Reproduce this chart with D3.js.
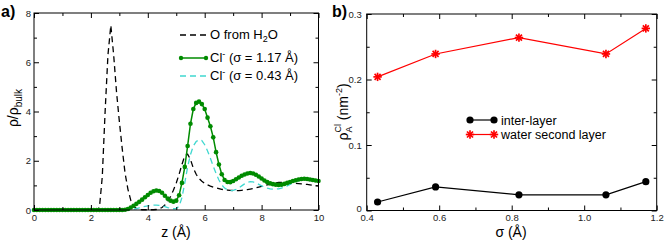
<!DOCTYPE html>
<html>
<head>
<meta charset="utf-8">
<script src="https://cdn.jsdelivr.net/npm/d3@7"></script>
<style>
body { margin: 0; background: #fff; }
svg { display: block; font-family: "Liberation Sans", Arial, sans-serif; }
.tick text { font-size: 9.5px; fill: #222; }
.domain { display: none; }
</style>
</head>
<body>
<svg width="664" height="243"></svg>
<script>
// panel a: density profiles along z (0.1 A steps)
var zGrid = d3.range(0, 101).map(function(i) { return i / 10; });

var oWater = [
  0, 0, 0, 0, 0, 0, 0, 0, 0, 0,
  0, 0, 0, 0, 0, 0, 0, 0, 0, 0,
  0, 0, 0, 0.1, 1.35, 4.0, 6.3, 7.5, 6.3, 4.8,
  3.6, 2.5, 1.5, 0.85, 0.4, 0.15, 0.06, 0.03, 0.01, 0.01,
  0.01, 0.01, 0.01, 0.02, 0.05, 0.1, 0.2, 0.35, 0.55, 0.8,
  1.1, 1.45, 1.85, 2.2, 2.27, 2.05, 1.7, 1.45, 1.28, 1.17,
  1.08, 1.02, 0.97, 0.93, 0.9, 0.87, 0.84, 0.82, 0.81, 0.8,
  0.79, 0.79, 0.79, 0.8, 0.81, 0.83, 0.85, 0.87, 0.9, 0.93,
  0.96, 0.99, 1.02, 1.05, 1.08, 1.1, 1.12, 1.12, 1.12, 1.11,
  1.1, 1.09, 1.08, 1.07, 1.06, 1.05, 1.04, 1.02, 1.0, 0.99,
  0.98
];

var clBig = [
  0, 0, 0, 0, 0, 0, 0, 0, 0, 0,
  0, 0, 0, 0, 0, 0, 0, 0, 0, 0,
  0, 0, 0, 0, 0, 0, 0, 0, 0, 0,
  0, 0, 0.01, 0.04, 0.1, 0.17, 0.25, 0.33, 0.42, 0.52,
  0.61, 0.7, 0.76, 0.79, 0.77, 0.7, 0.58, 0.46, 0.38, 0.34,
  0.38, 0.6, 1.1, 1.75, 2.6, 3.5, 4.1, 4.35, 4.4, 4.3,
  4.1, 3.75, 3.4, 2.95, 2.35, 1.85, 1.45, 1.22, 1.14, 1.13,
  1.18, 1.25, 1.32, 1.39, 1.44, 1.48, 1.5, 1.48, 1.43, 1.36,
  1.28, 1.2, 1.13, 1.08, 1.05, 1.03, 1.02, 1.03, 1.06, 1.1,
  1.14, 1.18, 1.21, 1.24, 1.26, 1.27, 1.26, 1.24, 1.22, 1.2,
  1.18
];

var clSmall = [
  0, 0, 0, 0, 0, 0, 0, 0, 0, 0,
  0, 0, 0, 0, 0, 0, 0, 0, 0, 0,
  0, 0, 0, 0, 0, 0, 0, 0, 0, 0,
  0, 0, 0, 0, 0.01, 0.03, 0.06, 0.09, 0.12, 0.15,
  0.17, 0.19, 0.2, 0.2, 0.19, 0.17, 0.14, 0.1, 0.07, 0.05,
  0.06, 0.15, 0.5, 1.1, 1.75, 2.25, 2.6, 2.78, 2.85, 2.82,
  2.65, 2.4, 2.1, 1.78, 1.48, 1.22, 1.02, 0.89, 0.82, 0.79,
  0.8, 0.84, 0.9, 0.98, 1.06, 1.12, 1.15, 1.14, 1.1, 1.04,
  0.98, 0.93, 0.89, 0.86, 0.85, 0.85, 0.86, 0.89, 0.93, 0.98,
  1.04, 1.1, 1.15, 1.19, 1.22, 1.24, 1.24, 1.23, 1.22, 1.21,
  1.2
];

// panel b: areal density vs sigma
var sigma = [0.43, 0.59, 0.82, 1.06, 1.17];
var interLayer = [0.013, 0.036, 0.024, 0.024, 0.044];
var secondLayer = [0.204, 0.239, 0.264, 0.239, 0.278];

var svg = d3.select("svg");
var green = "#008b00", cyan = "#40d8d0", red = "#ff0000";

function frame(g, x, y, xMajor, xMinor, yMajor, yMinor, xFmt, yFmt, yPad) {
  var x0 = x.range()[0], x1 = x.range()[1], y0 = y.range()[0], y1 = y.range()[1];
  g.append("g").attr("transform", "translate(0," + y0 + ")")
    .call(d3.axisBottom(x).tickValues(xMajor).tickSize(-5).tickPadding(4).tickFormat(xFmt));
  g.append("g").attr("transform", "translate(0," + y0 + ")")
    .call(d3.axisBottom(x).tickValues(xMinor).tickSize(-3).tickFormat(""));
  g.append("g").attr("transform", "translate(0," + y1 + ")")
    .call(d3.axisTop(x).tickValues(xMajor).tickSize(-5).tickFormat(""));
  g.append("g").attr("transform", "translate(0," + y1 + ")")
    .call(d3.axisTop(x).tickValues(xMinor).tickSize(-3).tickFormat(""));
  g.append("g").attr("transform", "translate(" + x0 + ",0)")
    .call(d3.axisLeft(y).tickValues(yMajor).tickSize(-5).tickPadding(yPad).tickFormat(yFmt));
  g.append("g").attr("transform", "translate(" + x0 + ",0)")
    .call(d3.axisLeft(y).tickValues(yMinor).tickSize(-3).tickFormat(""));
  g.append("g").attr("transform", "translate(" + x1 + ",0)")
    .call(d3.axisRight(y).tickValues(yMajor).tickSize(-5).tickFormat(""));
  g.append("g").attr("transform", "translate(" + x1 + ",0)")
    .call(d3.axisRight(y).tickValues(yMinor).tickSize(-3).tickFormat(""));
  g.selectAll(".tick line").attr("stroke", "#000");
  g.append("rect")
    .attr("x", x0).attr("y", y1).attr("width", x1 - x0).attr("height", y0 - y1)
    .attr("fill", "none").attr("stroke", "#000").attr("stroke-width", 1);
}

// ---------- panel a ----------
var xa = d3.scaleLinear().domain([0, 10]).range([34, 318.5]);
var ya = d3.scaleLinear().domain([0, 8]).range([210, 13]);
var ga = svg.append("g");

var lineA = function(vals) {
  return d3.line().x(function(d, i) { return xa(zGrid[i]); }).y(function(d) { return ya(d); })(vals);
};

ga.append("path").attr("d", lineA(oWater))
  .attr("fill", "none").attr("stroke", "#000").attr("stroke-width", 1.3).attr("stroke-dasharray", "6,4");
ga.append("path").attr("d", lineA(clSmall))
  .attr("fill", "none").attr("stroke", cyan).attr("stroke-width", 1.3).attr("stroke-dasharray", "6,4");
ga.append("path").attr("d", lineA(clBig))
  .attr("fill", "none").attr("stroke", green).attr("stroke-width", 1.5);
ga.append("g").selectAll("circle").data(clBig).enter().append("circle")
  .attr("cx", function(d, i) { return xa(zGrid[i]); })
  .attr("cy", function(d) { return ya(d); })
  .attr("r", 2.3).attr("fill", green);

frame(ga, xa, ya, [0, 2, 4, 6, 8, 10], [1, 3, 5, 7, 9], [0, 2, 4, 6, 8], [1, 3, 5, 7], d3.format("d"), d3.format("d"), 3);

// legend a
var legA = ga.append("g").attr("font-size", 13).attr("fill", "#000");
legA.append("line").attr("x1", 180).attr("x2", 206).attr("y1", 35).attr("y2", 35)
  .attr("stroke", "#000").attr("stroke-width", 1.3).attr("stroke-dasharray", "6,4");
var t1 = legA.append("text").attr("x", 210).attr("y", 39);
t1.append("tspan").text("O from H");
t1.append("tspan").attr("font-size", 9).attr("dy", 3).text("2");
t1.append("tspan").attr("dy", -3).text("O");

legA.append("line").attr("x1", 181).attr("x2", 206).attr("y1", 58).attr("y2", 58)
  .attr("stroke", green).attr("stroke-width", 1.5);
legA.selectAll("circle.lg").data([181, 206]).enter().append("circle")
  .attr("cx", function(d) { return d; }).attr("cy", 58).attr("r", 2.2).attr("fill", green);
var t2 = legA.append("text").attr("x", 210).attr("y", 62);
t2.append("tspan").text("Cl");
t2.append("tspan").attr("font-size", 9).attr("dy", -5).text("-");
t2.append("tspan").attr("dy", 5).text(" (σ = 1.17 Å)");

legA.append("line").attr("x1", 180).attr("x2", 206).attr("y1", 76).attr("y2", 76)
  .attr("stroke", cyan).attr("stroke-width", 1.3).attr("stroke-dasharray", "6,4");
var t3 = legA.append("text").attr("x", 210).attr("y", 80);
t3.append("tspan").text("Cl");
t3.append("tspan").attr("font-size", 9).attr("dy", -5).text("-");
t3.append("tspan").attr("dy", 5).text(" (σ = 0.43 Å)");

ga.append("text").attr("x", 176).attr("y", 237).attr("text-anchor", "middle")
  .attr("font-size", 14).text("z (Å)");
var yta = ga.append("text").attr("transform", "translate(18,108) rotate(-90)")
  .attr("text-anchor", "middle").attr("font-size", 14);
yta.append("tspan").text("ρ/ρ");
yta.append("tspan").attr("font-size", 10).attr("dy", 4).text("bulk");

svg.append("text").attr("x", 1).attr("y", 17).attr("font-size", 16).attr("font-weight", "bold").text("a)");

// ---------- panel b ----------
var xb = d3.scaleLinear().domain([0.4, 1.2]).range([366.7, 656.7]);
var yb = d3.scaleLinear().domain([0, 0.3]).range([210.5, 14]);
var gb = svg.append("g");

var lineB = function(vals) {
  return d3.line().x(function(d, i) { return xb(sigma[i]); }).y(function(d) { return yb(d); })(vals);
};

gb.append("path").attr("d", lineB(interLayer)).attr("fill", "none").attr("stroke", "#000").attr("stroke-width", 1.2);
gb.append("path").attr("d", lineB(secondLayer)).attr("fill", "none").attr("stroke", red).attr("stroke-width", 1.2);

gb.append("g").selectAll("circle").data(interLayer).enter().append("circle")
  .attr("cx", function(d, i) { return xb(sigma[i]); })
  .attr("cy", function(d) { return yb(d); })
  .attr("r", 3.6).attr("fill", "#000");

// eight-armed asterisk marker
function starStroke(sel) {
  sel.append("line").attr("x1", -4.2).attr("x2", 4.2).attr("y1", 0).attr("y2", 0);
  sel.append("line").attr("x1", 0).attr("x2", 0).attr("y1", -4.2).attr("y2", 4.2);
  sel.append("line").attr("x1", -3).attr("x2", 3).attr("y1", -3).attr("y2", 3);
  sel.append("line").attr("x1", -3).attr("x2", 3).attr("y1", 3).attr("y2", -3);
  sel.attr("stroke", red).attr("stroke-width", 1.7);
}

gb.append("g").selectAll("g").data(secondLayer).enter().append("g")
  .attr("transform", function(d, i) { return "translate(" + xb(sigma[i]) + "," + yb(d) + ")"; })
  .each(function() { starStroke(d3.select(this)); });

frame(gb, xb, yb, [0.4, 0.6, 0.8, 1.0, 1.2], [0.5, 0.7, 0.9, 1.1], [0, 0.1, 0.2, 0.3], [0.05, 0.15, 0.25],
  d3.format(".1f"), function(d) { return d === 0 ? "0" : d3.format(".1f")(d); }, 5);
gb.selectAll(".tick text").filter(function(d) { return d === 0; }).attr("dy", "0.15em");

// legend b
var legB = gb.append("g").attr("font-size", 12.5).attr("fill", "#000");
legB.append("line").attr("x1", 470).attr("x2", 494).attr("y1", 120).attr("y2", 120)
  .attr("stroke", "#000").attr("stroke-width", 1.2);
legB.selectAll("circle").data([470, 494]).enter().append("circle")
  .attr("cx", function(d) { return d; }).attr("cy", 120).attr("r", 3.6).attr("fill", "#000");
legB.append("text").attr("x", 501).attr("y", 124.5).text("inter-layer");
legB.append("line").attr("x1", 470).attr("x2", 494).attr("y1", 134.5).attr("y2", 134.5)
  .attr("stroke", red).attr("stroke-width", 1.2);
legB.selectAll("g.st").data([470, 494]).enter().append("g").attr("class", "st")
  .attr("transform", function(d) { return "translate(" + d + ",134.5)"; })
  .each(function() { starStroke(d3.select(this)); });
legB.append("text").attr("x", 501).attr("y", 139).text("water second layer");

gb.append("text").attr("x", 511).attr("y", 237).attr("text-anchor", "middle")
  .attr("font-size", 14).text("σ (Å)");
var ytb = gb.append("text").attr("transform", "translate(348,112) rotate(-90)")
  .attr("text-anchor", "middle").attr("font-size", 14);
ytb.append("tspan").text("ρ");
ytb.append("tspan").attr("font-size", 9).attr("dy", 4).text("A");
ytb.append("tspan").attr("font-size", 9).attr("dx", -6).attr("dy", -11).text("Cl");
ytb.append("tspan").attr("dy", 7).text(" (nm");
ytb.append("tspan").attr("font-size", 9).attr("dy", -6).text("-2");
ytb.append("tspan").attr("dy", 6).text(")");

svg.append("text").attr("x", 332).attr("y", 17).attr("font-size", 16).attr("font-weight", "bold").text("b)");
</script>
</body>
</html>
